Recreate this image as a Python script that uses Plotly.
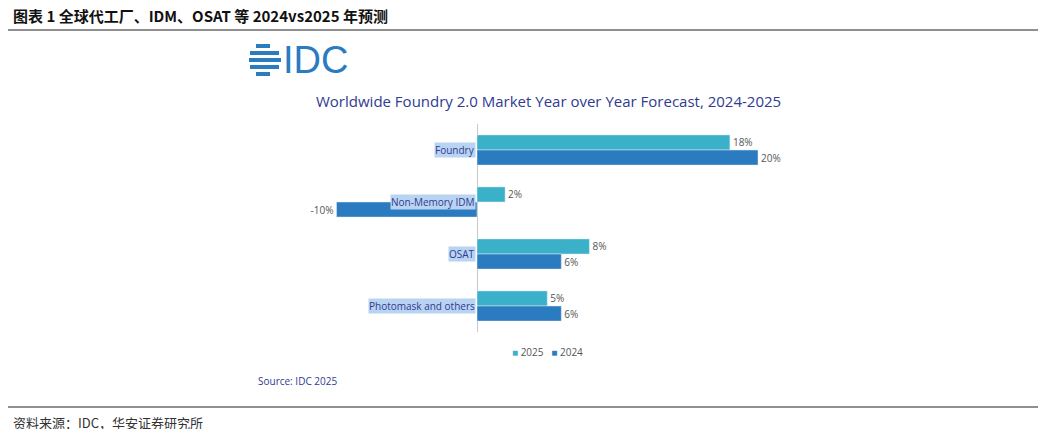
import plotly.graph_objects as go

categories = ["Foundry", "Non-Memory IDM", "OSAT", "Photomask and others"]
v2025 = [18, 2, 8, 5]
v2024 = [20, -10, 6, 6]
labels2025 = ["18%", "2%", "8%", "5%"]
labels2024 = ["20%", "-10%", "6%", "6%"]

C25 = "#3bb0c9"
C24 = "#2a7bbf"
NAVY = "#2f3b8f"
OFF = 8
W, H = 1046 - 2 * OFF, 437 - 2 * OFF

def px(x):
    return (x - OFF) / W

def py(y):
    return 1 - (y - OFF) / H

fig = go.Figure()
fig.add_trace(go.Bar(y=categories, x=v2025, name="2025", orientation="h", marker_color=C25,
                     text=labels2025, textposition="outside", showlegend=False,
                     textfont=dict(size=10, color="#555"), cliponaxis=False))
fig.add_trace(go.Bar(y=categories, x=v2024, name="2024", orientation="h", marker_color=C24,
                     text=labels2024, textposition="outside", showlegend=False,
                     textfont=dict(size=10, color="#555"), cliponaxis=False))

x0p, x1p, y0p, y1p = 240, 800, 124, 332
zero_px, px_per = 477, 14.05
fig.update_layout(
    width=W, height=H, margin=dict(l=0, r=0, t=0, b=0),
    paper_bgcolor="white", plot_bgcolor="white",
    barmode="group", bargap=0.42, bargroupgap=0,
    font=dict(family="Open Sans", color="#444"),
    xaxis=dict(domain=[px(x0p), px(x1p)],
               range=[(x0p - zero_px) / px_per, (x1p - zero_px) / px_per],
               showticklabels=False, showgrid=False, ticks="",
               zeroline=True, zerolinecolor="#c8c8c8", zerolinewidth=1),
    yaxis=dict(domain=[py(y1p), py(y0p)], autorange="reversed",
               showticklabels=False, showgrid=False, zeroline=False),
)

for c in categories:
    fig.add_annotation(x=-0.1, y=c, xref="x", yref="y", text=c, showarrow=False,
                       xanchor="right", bgcolor="#b9d3f2", borderpad=0,
                       font=dict(size=10, color=NAVY, family="Open Sans"))

def ann(text, x, y, size, color, xanchor="left", family="Open Sans"):
    fig.add_annotation(x=px(x), y=py(y), xref="paper", yref="paper", text=text,
                       showarrow=False, xanchor=xanchor, yanchor="middle",
                       font=dict(size=size, color=color, family=family))

ann("<b>图表 1 全球代工厂、IDM、OSAT 等 2024vs2025 年预测</b>", 11, 15, 15, "#111", family="Noto Sans CJK SC")
ann("资料来源：IDC，华安证券研究所", 11, 422, 13, "#333", family="Noto Sans CJK SC")
ann("Worldwide Foundry 2.0 Market Year over Year Forecast, 2024-2025", 548, 101, 15, NAVY, xanchor="center")
ann("Source: IDC 2025", 256, 381, 10, NAVY)
ann("IDC", 281, 60, 38, "#2a7bbf", family="Liberation Sans")
ann("<span style='color:%s'>■</span> 2025   <span style='color:%s'>■</span> 2024" % (C25, C24),
    547, 352, 10, "#555", xanchor="center")

shapes = [
    dict(type="line", xref="paper", yref="paper", x0=0, x1=1, y0=py(30), y1=py(30),
         line=dict(color="#222", width=1.2)),
    dict(type="line", xref="paper", yref="paper", x0=0, x1=1, y0=py(407), y1=py(407),
         line=dict(color="#222", width=1.2)),
]
for yy, (a, b) in zip([46, 53, 60, 67, 74], [(256, 270), (250, 279), (249, 281), (250, 279), (256, 270)]):
    shapes.append(dict(type="line", xref="paper", yref="paper", x0=px(a), x1=px(b),
                       y0=py(yy), y1=py(yy), line=dict(color="#2a7bbf", width=4)))
fig.update_layout(shapes=shapes)

fig.write_html("out.html")
